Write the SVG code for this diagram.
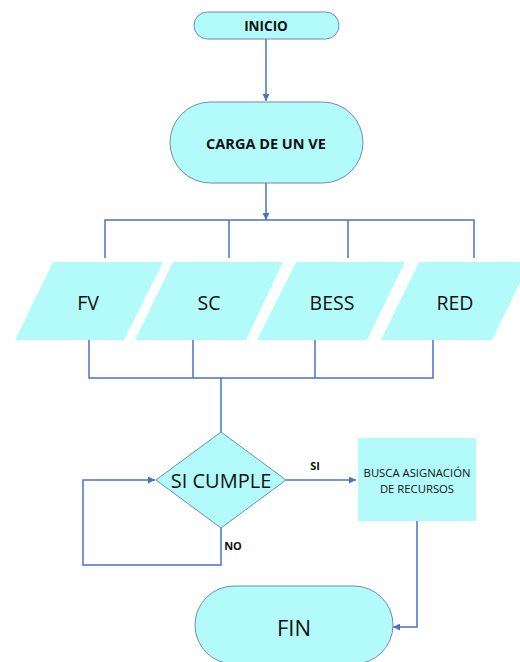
<svg xmlns="http://www.w3.org/2000/svg" width="520" height="662" viewBox="0 0 520 662">
<style>
.shape{fill:#b3fbfb}
.pill{fill:#b3fbfb;stroke:#6f8ab8;stroke-width:1}
.ln{fill:none;stroke:#4a72c8;stroke-width:1.5}
.t{font-family:"Open Sans","Liberation Sans",sans-serif;fill:#111;text-anchor:middle;dominant-baseline:central}
.b{font-weight:bold}
</style>
<defs>
<marker id="ah" viewBox="0 0 10 10" refX="10" refY="5" markerWidth="7" markerHeight="7" markerUnits="userSpaceOnUse" orient="auto">
<path d="M0,0 L10,5 L0,10 z" fill="#4a72c8"/>
</marker>
</defs>
<rect width="520" height="662" fill="#fff"/>
<g id="connectors">
<line class="ln" x1="266" y1="39" x2="266" y2="101" marker-end="url(#ah)"/>
<line class="ln" x1="266" y1="183" x2="266" y2="220" marker-end="url(#ah)"/>
<polyline class="ln" points="105,258 105,220 474,220 474,258"/>
<line class="ln" x1="229" y1="220" x2="229" y2="258"/>
<line class="ln" x1="348" y1="220" x2="348" y2="258"/>
<polyline class="ln" points="89,340 89,378 433,378 433,340"/>
<line class="ln" x1="193" y1="340" x2="193" y2="378"/>
<line class="ln" x1="315" y1="340" x2="315" y2="378"/>
<line class="ln" x1="221" y1="378" x2="221" y2="432"/>
<line class="ln" x1="286" y1="480" x2="356" y2="480" marker-end="url(#ah)"/>
<polyline class="ln" points="221,528 221,565 83,565 83,480 155,480" marker-end="url(#ah)"/>
<polyline class="ln" points="417,521 417,627 393,627" marker-end="url(#ah)"/>
<text class="t b" x="315" y="465" font-size="11">SI</text>
<text class="t b" x="233" y="545" font-size="11">NO</text>
</g>
<g id="inicio">
<rect class="pill" x="194" y="12" width="145" height="27" rx="13.5"/>
<text class="t b" x="266" y="25.5" font-size="13.5">INICIO</text>
</g>
<g id="carga">
<rect class="pill" x="170" y="102" width="193" height="81" rx="40.5"/>
<text class="t b" x="266" y="143" font-size="14.5">CARGA DE UN VE</text>
</g>
<g id="fv">
<polygon class="shape" points="53,262 163,262 124,340 15,340"/>
<text class="t" x="88" y="302" font-size="19.5">FV</text>
</g>
<g id="sc">
<polygon class="shape" points="173,262 283,262 246,340 135,340"/>
<text class="t" x="209" y="302" font-size="19.5">SC</text>
</g>
<g id="bess">
<polygon class="shape" points="296,262 405,262 367,340 257,340"/>
<text class="t" x="332" y="302" font-size="19.5">BESS</text>
</g>
<g id="red">
<polygon class="shape" points="419,262 530,262 492,340 381,340"/>
<text class="t" x="455" y="302" font-size="19.5">RED</text>
</g>
<g id="si-cumple">
<polygon class="pill" points="221,432 286,480 221,528 156,480"/>
<text class="t" x="221" y="480" font-size="20">SI CUMPLE</text>
</g>
<g id="busca">
<rect class="shape" x="358" y="438" width="118" height="83"/>
<text class="t" x="417" y="472" font-size="11.3">BUSCA ASIGNACIÓN</text>
<text class="t" x="417" y="488" font-size="11.3">DE RECURSOS</text>
</g>
<g id="fin">
<rect class="pill" x="195" y="586" width="198" height="78" rx="39"/>
<text class="t" x="294" y="627" font-size="22">FIN</text>
</g>
</svg>
